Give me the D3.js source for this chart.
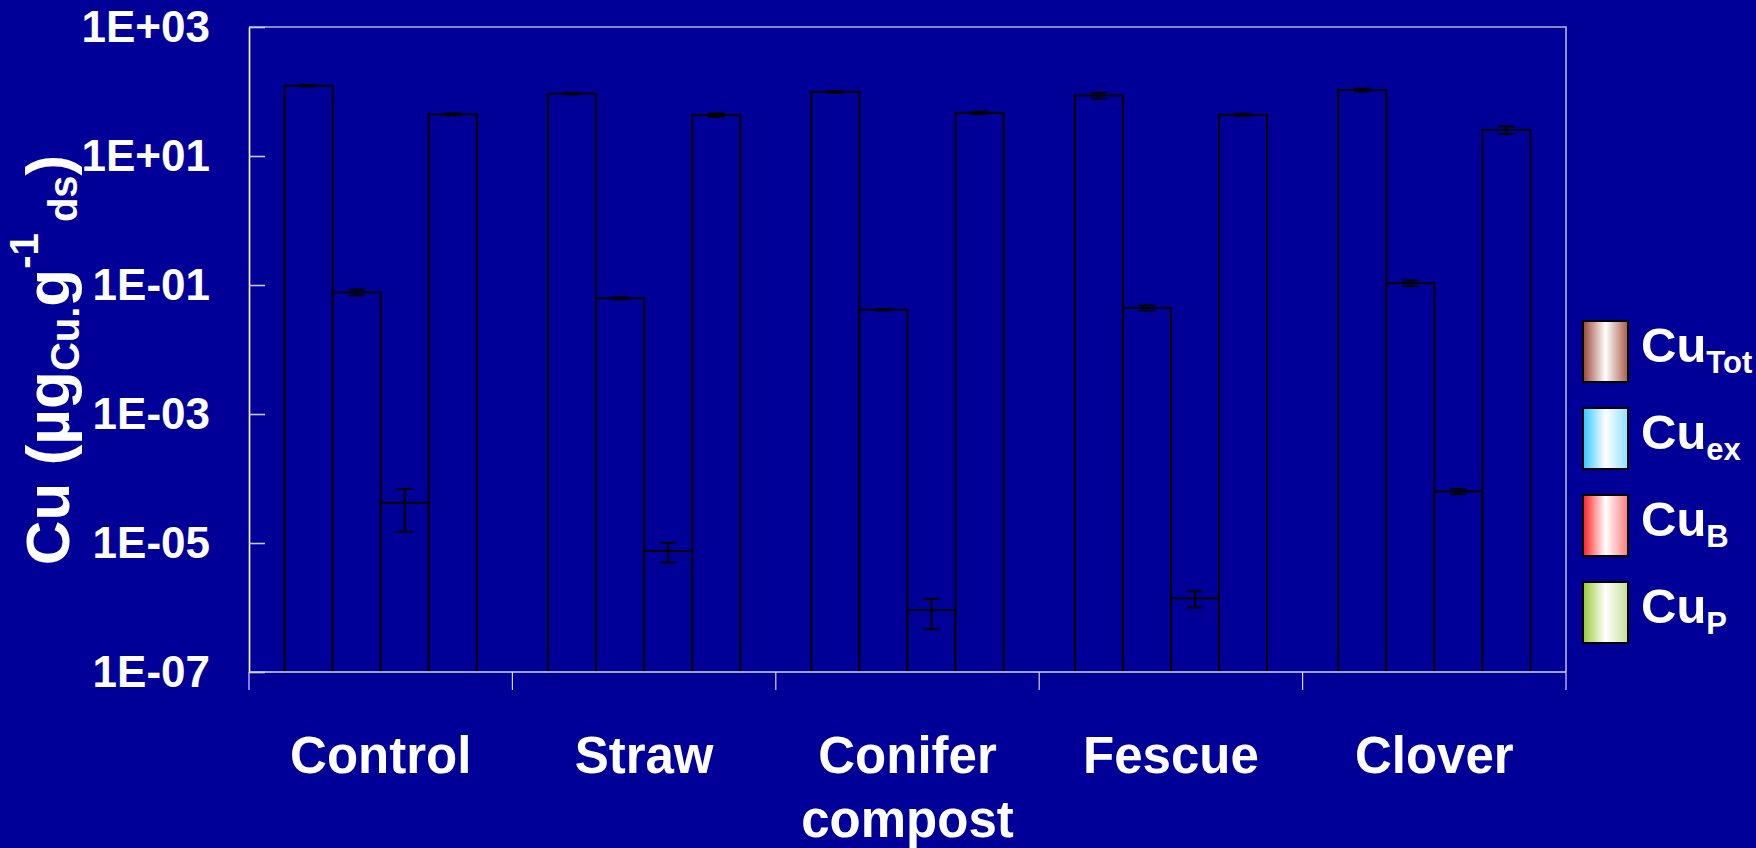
<!DOCTYPE html>
<html>
<head>
<meta charset="utf-8">
<script src="https://cdn.jsdelivr.net/npm/d3@7"></script>
<style>
html, body { margin: 0; padding: 0; background: #000099; }
svg { display: block; font-family: "Liberation Sans", Arial, sans-serif; font-weight: bold; }
</style>
</head>
<body>
<svg id="chart" width="1756" height="848"></svg>
<script>
// data
var categories = ["Control", "Straw", "Conifer compost", "Fescue", "Clover"];
var series = ["tot", "ex", "b", "p"];
var seriesSub = ["Tot", "ex", "B", "P"];
var cuTot = [123, 92.5, 98.9, 86.7, 105.5];
var cuTotErr = [3, 2, 3, 9, 5];
var cuEx = [0.0771, 0.0622, 0.0414, 0.0442, 0.107];
var cuExErr = [0.008, 0.002, 0.001, 0.004, 0.011];
var cuB = [4.2e-5, 7.5e-6, 9.1e-7, 1.39e-6, 6.3e-5];
var cuBErr = [2.7e-5, 2.5e-6, 4.5e-7, 3.9e-7, 6e-6];
var cuP = [44.3, 43.1, 46.6, 43.5, 25.4];
var cuPErr = [1.5, 2.5, 2, 1.5, 3.4];
var yTicks = [1e3, 1e1, 1e-1, 1e-3, 1e-5, 1e-7];
var swatchColors = [["#9a4632", "#a85c48"], ["#2ec8ff", "#8fe0ff"], ["#ff1e1e", "#ff7a7a"], ["#98c832", "#c4df95"]];

var values = [cuTot, cuEx, cuB, cuP],
    errors = [cuTotErr, cuExErr, cuBErr, cuPErr];

var plot = {left: 249, right: 1566, top: 27, bottom: 672},
    bg = "#000099";

var svg = d3.select("#chart");

var x0 = d3.scaleBand().domain(categories).range([plot.left, plot.right]).padding(0);
var x1 = d3.scaleBand().domain(series).range([0, x0.bandwidth()]).paddingInner(0).paddingOuter(0.74);
var y = d3.scaleLog().domain([1e-7, 1e3]).range([plot.bottom, plot.top]);

function sci(v) {
    var e = Math.round(Math.log10(v));
    return "1E" + (e < 0 ? "-" : "+") + String(Math.abs(e)).padStart(2, "0");
}

/*
 * plot frame
 */
svg.append("path")
    .attr("d", "M" + plot.left + "," + plot.top + "H" + plot.right + "V" + plot.bottom)
    .attr("fill", "none")
    .attr("stroke", "#b4b4dc")
    .attr("stroke-width", 1.6);

/*
 * bars + error bars
 */
var rows = [];
categories.forEach(function(c, i) {
    series.forEach(function(s, k) {
        rows.push({cat: c, key: s, value: values[k][i], err: errors[k][i]});
    });
});

svg.append("g").selectAll("rect")
    .data(rows)
    .enter().append("rect")
    .attr("x", function(d) { return x0(d.cat) + x1(d.key); })
    .attr("y", function(d) { return y(d.value); })
    .attr("width", x1.bandwidth())
    .attr("height", function(d) { return plot.bottom - y(d.value); })
    .attr("fill", bg)
    .attr("stroke", "#000")
    .attr("stroke-width", 2);

var eb = svg.append("g").attr("stroke", "#000").attr("stroke-width", 2)
    .selectAll("g").data(rows).enter().append("g")
    .attr("transform", function(d) { return "translate(" + (x0(d.cat) + x1(d.key) + x1.bandwidth() / 2) + ",0)"; });
eb.append("line")
    .attr("y1", function(d) { return y(d.value + d.err); })
    .attr("y2", function(d) { return y(d.value - d.err); });
eb.append("line").attr("x1", -8).attr("x2", 8)
    .attr("y1", function(d) { return y(d.value + d.err); })
    .attr("y2", function(d) { return y(d.value + d.err); });
eb.append("line").attr("x1", -8).attr("x2", 8)
    .attr("y1", function(d) { return y(d.value - d.err); })
    .attr("y2", function(d) { return y(d.value - d.err); });

/*
 * y axis
 */
var yAxis = svg.append("g")
    .attr("transform", "translate(" + plot.left + ",0)")
    .call(d3.axisLeft(y).tickValues(yTicks).tickFormat(sci)
        .tickSizeInner(-16).tickSizeOuter(0).tickPadding(39));
yAxis.select(".domain").attr("stroke", "#fff").attr("stroke-width", 1.6);
yAxis.selectAll(".tick line").attr("stroke", "#c8c8e8").attr("stroke-width", 1.6);
yAxis.selectAll(".tick text")
    .attr("fill", "#fff")
    .attr("font-size", 44)
    .attr("font-family", "Liberation Sans, Arial, sans-serif")
    .attr("font-weight", "bold");

/*
 * x axis
 */
var bounds = categories.map(function(c) { return x0(c); }).concat([x0.range()[1]]);
svg.append("line")
    .attr("x1", plot.left).attr("x2", plot.right)
    .attr("y1", plot.bottom).attr("y2", plot.bottom)
    .attr("stroke", "#d6d6f4").attr("stroke-width", 1.6);
svg.append("g").selectAll("line").data(bounds).enter().append("line")
    .attr("x1", function(d) { return d; }).attr("x2", function(d) { return d; })
    .attr("y1", plot.bottom).attr("y2", plot.bottom + 18)
    .attr("stroke", "#d6d6f4").attr("stroke-width", 1.2);

var xAxis = svg.append("g")
    .attr("transform", "translate(0," + plot.bottom + ")")
    .call(d3.axisBottom(x0).tickSize(0).tickPadding(65));
xAxis.select(".domain").remove();
xAxis.selectAll(".tick text")
    .attr("fill", "#fff")
    .attr("font-size", 51)
    .attr("font-family", "Liberation Sans, Arial, sans-serif")
    .attr("font-weight", "bold")
    .attr("dy", null)
    .each(function(d) {
        var t = d3.select(this), words = d.split(" ");
        t.text(null);
        words.forEach(function(w, j) {
            t.append("tspan").attr("x", 0).attr("dy", j === 0 ? "0.71em" : "1.25em").text(w);
        });
    });

/*
 * y title
 */
var title = svg.append("text")
    .attr("transform", "translate(69,360) rotate(-90)")
    .attr("text-anchor", "middle")
    .attr("fill", "#fff")
    .attr("font-size", 62);
title.append("tspan").text("Cu (\u00b5g");
title.append("tspan").attr("font-size", 40).attr("dy", 10).text("Cu.");
title.append("tspan").attr("dy", -10).text("g");
title.append("tspan").attr("font-size", 40).attr("dy", -31).text("-1");
title.append("tspan").attr("font-size", 40).attr("dy", 39).text(" ds");
title.append("tspan").attr("dy", -8).text(")");

/*
 * legend
 */
var defs = svg.append("defs");
series.forEach(function(s, k) {
    var g = defs.append("linearGradient").attr("id", "grad-" + s)
        .attr("x1", 0).attr("x2", 1).attr("y1", 0).attr("y2", 0);
    g.append("stop").attr("offset", 0).attr("stop-color", swatchColors[k][0]);
    g.append("stop").attr("offset", 0.5).attr("stop-color", "#fff");
    g.append("stop").attr("offset", 1).attr("stop-color", swatchColors[k][1]);
});

var legend = svg.append("g").selectAll("g").data(series).enter().append("g")
    .attr("transform", function(d, k) { return "translate(1583," + (321 + k * 87) + ")"; });
legend.append("rect")
    .attr("width", 45).attr("height", 61)
    .attr("fill", function(d) { return "url(#grad-" + d + ")"; })
    .attr("stroke", "#000").attr("stroke-width", 2);
var lt = legend.append("text")
    .attr("x", 58).attr("y", 41)
    .attr("fill", "#fff")
    .attr("font-size", 49);
lt.append("tspan").text("Cu");
lt.append("tspan").attr("font-size", 31).attr("dy", 11)
    .text(function(d, k) { return seriesSub[k]; });
</script>
</body>
</html>
